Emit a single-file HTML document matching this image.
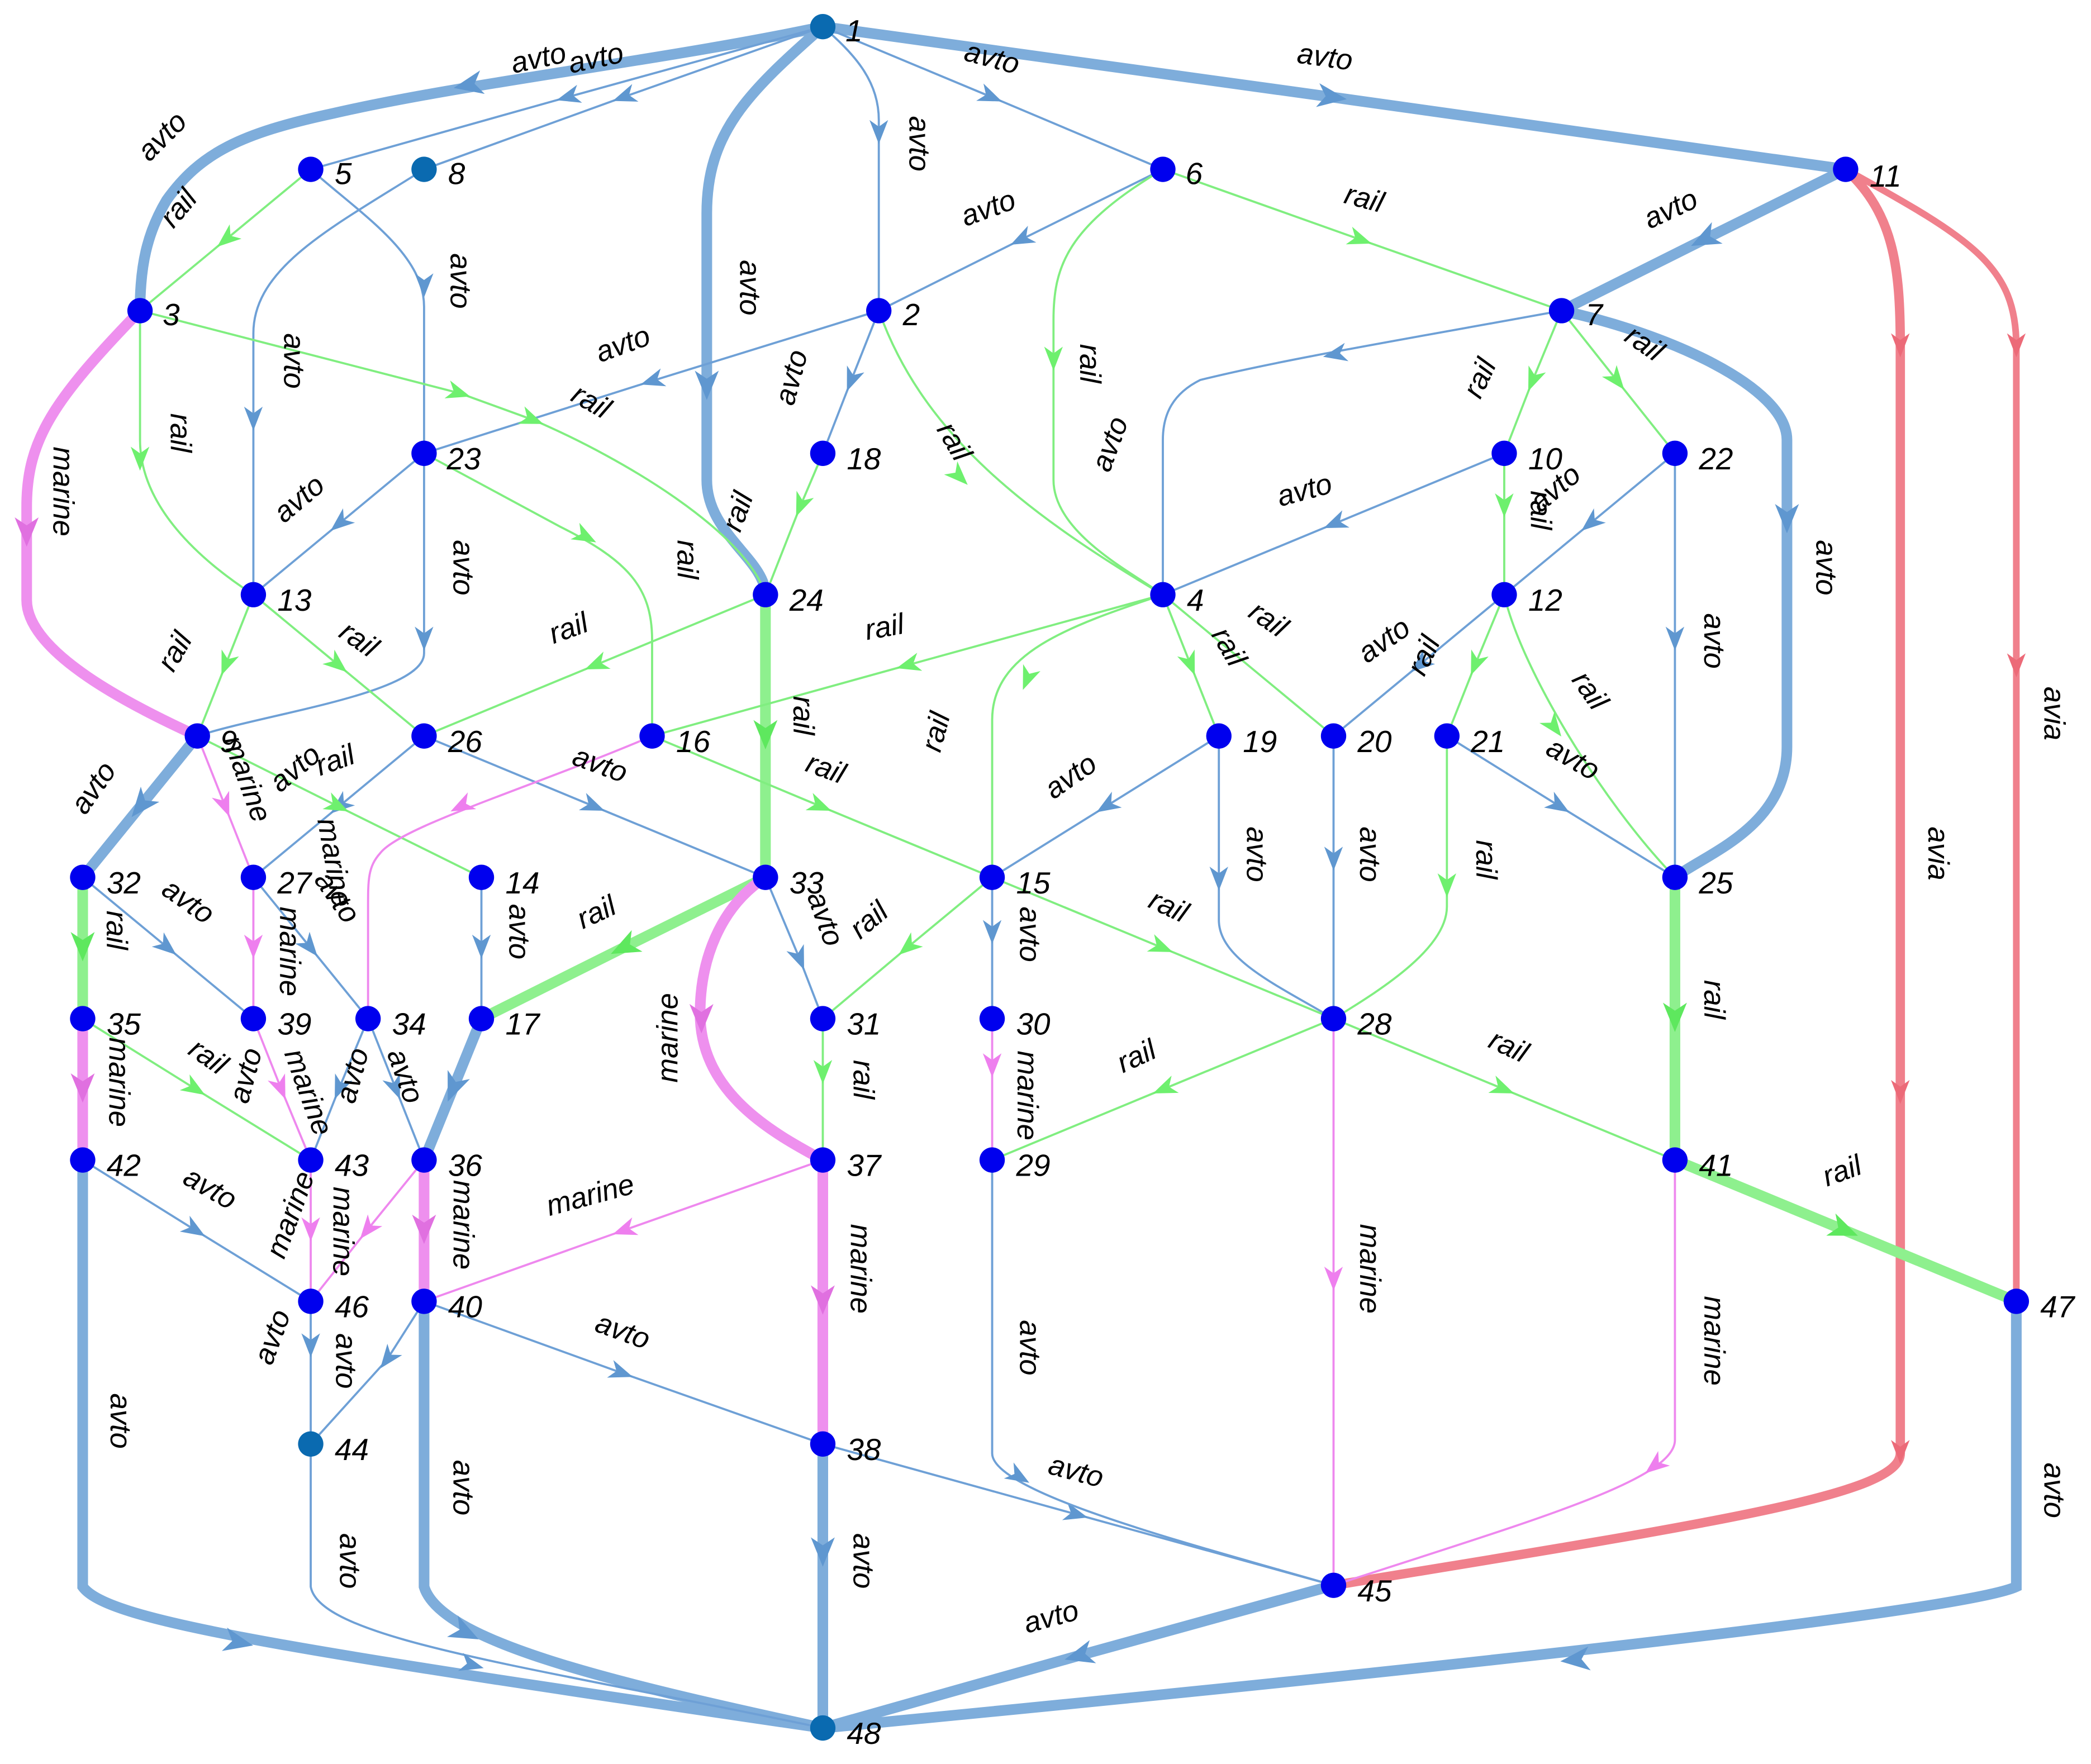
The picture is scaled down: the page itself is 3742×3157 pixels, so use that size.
<!DOCTYPE html>
<html><head><meta charset="utf-8"><style>
html,body{margin:0;padding:0;background:#fff;}
svg{display:block;}
text{font-family:"Liberation Sans",sans-serif;font-style:italic;fill:#000;}
.l{font-size:22px;}
.n{font-size:23px;}
.ta{stroke:#7eaddb;stroke-width:8;fill:none;stroke-linecap:round;}
.tn{stroke:#6ea0d6;stroke-width:1.6;fill:none;}
.ra{stroke:#8ef08e;stroke-width:8;fill:none;}
.rn{stroke:#80ee80;stroke-width:1.6;fill:none;}
.ma{stroke:#ee90ee;stroke-width:8;fill:none;}
.mn{stroke:#ee88ee;stroke-width:1.6;fill:none;}
.av{stroke:#f0808c;fill:none;}
.h{stroke:none !important;fill:none;}
.b{marker-mid:url(#ab);}
.g{marker-mid:url(#ag);}
.p{marker-mid:url(#ap);}
.r{marker-mid:url(#ar);}
.bb{marker-mid:url(#abb);}
.gb{marker-mid:url(#agb);}
.pb{marker-mid:url(#apb);}
</style></head><body>
<svg width="3742" height="3157" viewBox="0 0 1568 1323" preserveAspectRatio="none" xmlns="http://www.w3.org/2000/svg">
<defs>
<marker id="ab" markerUnits="userSpaceOnUse" markerWidth="20" markerHeight="16" refX="10" refY="7" orient="auto"><path d="M0,0 L18,7 L0,14 L5,7z" fill="#5f97d0"/></marker>
<marker id="ag" markerUnits="userSpaceOnUse" markerWidth="20" markerHeight="16" refX="10" refY="7" orient="auto"><path d="M0,0 L18,7 L0,14 L5,7z" fill="#6ef06e"/></marker>
<marker id="ap" markerUnits="userSpaceOnUse" markerWidth="20" markerHeight="16" refX="10" refY="7" orient="auto"><path d="M0,0 L18,7 L0,14 L5,7z" fill="#ee7fee"/></marker>
<marker id="ar" markerUnits="userSpaceOnUse" markerWidth="20" markerHeight="16" refX="10" refY="7" orient="auto"><path d="M0,0 L18,7 L0,14 L5,7z" fill="#ec6a78"/></marker>
<marker id="abb" markerUnits="userSpaceOnUse" markerWidth="24" markerHeight="20" refX="12" refY="9" orient="auto"><path d="M0,0 L22,9 L0,18 L6,9z" fill="#5f97d0"/></marker>
<marker id="agb" markerUnits="userSpaceOnUse" markerWidth="24" markerHeight="20" refX="12" refY="9" orient="auto"><path d="M0,0 L22,9 L0,18 L6,9z" fill="#5ee85e"/></marker>
<marker id="apb" markerUnits="userSpaceOnUse" markerWidth="24" markerHeight="20" refX="12" refY="9" orient="auto"><path d="M0,0 L22,9 L0,18 L6,9z" fill="#e070e0"/></marker>
</defs>

<!-- avia -->
<path class="av r" stroke-width="7" d="M1384,127 C1420,160 1425,200 1425,260 L1425,820 L1425,1090 C1425,1120 1300,1140 1000,1189"/>
<path class="av r" stroke-width="5" d="M1384,127 C1480,180 1512,200 1512,260 L1512,500 L1512,976"/>

<!-- thick avto -->
<path class="ta" d="M617,20 C500,45 350,62 250,85 C180,100 150,115 125,150 C110,175 105,200 105,233"/>
<path class="h bb" d="M400,54 L350,64 L300,74"/>
<path class="ta bb" d="M617,20 L1000,73 L1384,127"/>
<path class="ta" d="M617,20 C560,70 530,100 530,160 L530,360 C530,400 574,420 574,446"/>
<path class="h bb" d="M530,270 L530,290 L530,310"/>
<path class="ta bb" d="M1384,127 L1277,180 L1171,233"/>
<path class="ta" d="M1171,233 C1250,250 1340,290 1340,330 L1340,560 C1340,620 1280,640 1256,658"/>
<path class="h bb" d="M1340,360 L1340,390 L1340,420"/>
<path class="ta bb" d="M148,552 L105,605 L62,658"/>
<path class="ta bb" d="M361,764 L339.5,817 L318,870"/>
<path class="ta" d="M62,870 L62,1190 C80,1215 200,1235 617,1296"/>
<path class="h bb" d="M150,1225 L180,1232 L210,1238"/>
<path class="ta" d="M318,976 L318,1190 C330,1230 450,1260 617,1296"/>
<path class="h bb" d="M330,1215 L350,1225 L370,1235"/>
<path class="ta bb" d="M617,1083 L617,1165 L617,1296"/>
<path class="ta bb" d="M1000,1189 L808,1242 L617,1296"/>
<path class="ta" d="M1512,976 L1512,1190 C1480,1205 1200,1240 617,1296"/>
<path class="h bb" d="M1220,1241 L1180,1245 L1140,1249"/>

<!-- thick rail -->
<path class="ra gb" d="M574,446 L574,552 L574,658"/>
<path class="ra gb" d="M574,658 L467,711 L361,764"/>
<path class="ra gb" d="M62,658 L62,711 L62,764"/>
<path class="ra gb" d="M1256,658 L1256,764 L1256,870"/>
<path class="ra gb" d="M1256,870 L1384,923 L1512,976"/>

<!-- thick marine -->
<path class="ma" d="M105,233 C40,300 20,330 20,380 L20,450 C20,490 100,530 148,552"/>
<path class="h pb" d="M20,370 L20,400 L20,430"/>
<path class="ma" d="M574,658 C540,680 525,720 525,760 C525,820 580,850 617,870"/>
<path class="h pb" d="M526,745 L526,765 L526,785"/>
<path class="ma pb" d="M617,870 L617,976 L617,1083"/>
<path class="ma pb" d="M62,764 L62,817 L62,870"/>
<path class="ma pb" d="M318,870 L318,923 L318,976"/>

<!-- thin avto -->
<path class="tn b" d="M617,20 L425,73 L233,127"/>
<path class="tn b" d="M617,20 L467,73 L318,127"/>
<path class="tn" d="M617,20 C640,40 659,60 659,90 L659,233"/>
<path class="h b" d="M659,90 L659,100 L659,110"/>
<path class="tn b" d="M617,20 L744,73 L872,127"/>
<path class="tn b" d="M872,127 L765,180 L659,233"/>
<path class="tn b" d="M659,233 L488,286 L318,340"/>
<path class="tn b" d="M659,233 L638,286 L617,340"/>
<path class="tn" d="M233,127 C270,160 318,190 318,230 L318,340"/>
<path class="h b" d="M318,200 L318,215 L318,230"/>
<path class="tn" d="M318,127 C250,170 190,200 190,250 L190,446"/>
<path class="h b" d="M190,300 L190,315 L190,330"/>
<path class="tn b" d="M318,340 L254,393 L190,446"/>
<path class="tn" d="M318,340 L318,490 C318,520 200,535 148,552"/>
<path class="h b" d="M318,470 L318,480 L318,490"/>
<path class="tn b" d="M318,552 L254,605 L190,658"/>
<path class="tn b" d="M318,552 L446,605 L574,658"/>
<path class="tn" d="M1171,233 C1050,255 960,270 900,285 C880,295 872,310 872,330 L872,446"/>
<path class="h b" d="M1020,262 L1000,266 L980,270"/>
<path class="tn b" d="M1128,340 L1000,393 L872,446"/>
<path class="tn b" d="M1256,340 L1192,393 L1128,446"/>
<path class="tn b" d="M1256,340 L1256,480 L1256,658"/>
<path class="tn b" d="M1128,446 L1064,499 L1000,552"/>
<path class="tn b" d="M1085,552 L1170,605 L1256,658"/>
<path class="tn b" d="M914,552 L829,605 L744,658"/>
<path class="tn" d="M914,552 L914,690 C914,720 960,740 1000,764"/>
<path class="h b" d="M914,650 L914,660 L914,670"/>
<path class="tn b" d="M1000,552 L1000,645 L1000,764"/>
<path class="tn b" d="M744,658 L744,700 L744,764"/>
<path class="tn b" d="M574,658 L600,720 L617,764"/>
<path class="tn b" d="M62,658 L126,711 L190,764"/>
<path class="tn b" d="M190,658 L233,711 L276,764"/>
<path class="tn b" d="M361,658 L361,711 L361,764"/>
<path class="tn b" d="M276,764 L254,817 L233,870"/>
<path class="tn b" d="M276,764 L297,817 L318,870"/>
<path class="tn b" d="M62,870 L147,923 L233,976"/>
<path class="tn b" d="M318,976 L467,1030 L617,1083"/>
<path class="tn b" d="M617,1083 L808,1136 L1000,1189"/>
<path class="tn" d="M744,870 L744,1090 C744,1120 900,1160 1000,1189"/>
<path class="h b" d="M755,1102 L765,1108 L775,1114"/>
<path class="tn b" d="M233,976 L233,1010 L233,1083"/>
<path class="tn b" d="M318,976 L290,1020 L233,1083"/>
<path class="tn" d="M233,1083 L233,1190 C240,1230 400,1250 617,1296"/>
<path class="h b" d="M340,1245 L355,1249 L370,1253"/>

<!-- thin rail -->
<path class="rn g" d="M233,127 L169,180 L105,233"/>
<path class="rn g" d="M872,127 L1021,180 L1171,233"/>
<path class="rn" d="M872,127 C800,170 790,200 790,240 L790,360 C790,400 850,430 872,446"/>
<path class="h g" d="M790,260 L790,270 L790,280"/>
<path class="rn" d="M659,233 C690,320 760,380 872,446"/>
<path class="h g" d="M712,350 L720,358 L728,366"/>
<path class="rn g" d="M617,340 L600,380 L574,446"/>
<path class="rn" d="M105,233 L105,330 C105,380 150,420 190,446"/>
<path class="h g" d="M105,335 L105,345 L105,355"/>
<path class="rn g" d="M105,233 L345,295 L400,315 C470,345 560,400 574,446"/>
<path class="rn" d="M318,340 L420,395 C470,420 489,440 489,480 L489,552"/>
<path class="h g" d="M425,395 L440,403 L455,411"/>
<path class="rn g" d="M1171,233 L1149,286 L1128,340"/>
<path class="rn g" d="M1171,233 L1213,286 L1256,340"/>
<path class="rn g" d="M1128,340 L1128,380 L1128,446"/>
<path class="rn g" d="M1128,446 L1106,499 L1085,552"/>
<path class="rn" d="M1128,446 C1140,500 1200,600 1256,658"/>
<path class="h g" d="M1160,538 L1166,546 L1172,554"/>
<path class="rn g" d="M872,446 L893,499 L914,552"/>
<path class="rn" d="M872,446 L1000,552"/>
<path class="rn g" d="M872,446 L680,499 L489,552"/>
<path class="rn" d="M872,446 C800,470 744,490 744,540 L744,658"/>
<path class="h g" d="M774,500 L770,510 L766,520"/>
<path class="rn g" d="M574,446 L446,499 L318,552"/>
<path class="rn g" d="M190,446 L169,499 L148,552"/>
<path class="rn g" d="M190,446 L254,499 L318,552"/>
<path class="rn g" d="M148,552 L254,605 L361,658"/>
<path class="rn g" d="M489,552 L616,605 L744,658"/>
<path class="rn g" d="M744,658 L872,711 L1000,764"/>
<path class="rn g" d="M744,658 L680,711 L617,764"/>
<path class="rn" d="M1085,552 L1085,680 C1085,710 1040,740 1000,764"/>
<path class="h g" d="M1085,655 L1085,665 L1085,675"/>
<path class="rn g" d="M1000,764 L872,817 L744,870"/>
<path class="rn g" d="M1000,764 L1128,817 L1256,870"/>
<path class="rn g" d="M617,764 L617,805 L617,870"/>
<path class="rn g" d="M62,764 L147,817 L233,870"/>

<!-- thin marine -->
<path class="mn p" d="M148,552 L169,605 L190,658"/>
<path class="mn p" d="M190,658 L190,711 L190,764"/>
<path class="mn" d="M489,552 C400,590 300,620 285,640 C276,650 276,660 276,680 L276,764"/>
<path class="h p" d="M355,600 L345,605 L335,610"/>
<path class="mn p" d="M190,764 L211,817 L233,870"/>
<path class="mn p" d="M744,764 L744,800 L744,870"/>
<path class="mn p" d="M617,870 L467,923 L318,976"/>
<path class="mn p" d="M1000,764 L1000,960 L1000,1189"/>
<path class="mn" d="M1256,870 L1256,1080 C1256,1110 1150,1140 1000,1189"/>
<path class="h p" d="M1245,1096 L1240,1100 L1235,1104"/>
<path class="mn p" d="M233,870 L233,923 L233,976"/>
<path class="mn p" d="M318,870 L275,923 L233,976"/>

<!-- nodes -->
<g fill="#0000ee">
<circle cx="233" cy="127" r="9.5"/><circle cx="872" cy="127" r="9.5"/><circle cx="1384" cy="127" r="9.5"/>
<circle cx="105" cy="233" r="9.5"/><circle cx="659" cy="233" r="9.5"/><circle cx="1171" cy="233" r="9.5"/>
<circle cx="318" cy="340" r="9.5"/><circle cx="617" cy="340" r="9.5"/><circle cx="1128" cy="340" r="9.5"/><circle cx="1256" cy="340" r="9.5"/>
<circle cx="190" cy="446" r="9.5"/><circle cx="574" cy="446" r="9.5"/><circle cx="872" cy="446" r="9.5"/><circle cx="1128" cy="446" r="9.5"/>
<circle cx="148" cy="552" r="9.5"/><circle cx="318" cy="552" r="9.5"/><circle cx="489" cy="552" r="9.5"/><circle cx="914" cy="552" r="9.5"/><circle cx="1000" cy="552" r="9.5"/><circle cx="1085" cy="552" r="9.5"/>
<circle cx="62" cy="658" r="9.5"/><circle cx="190" cy="658" r="9.5"/><circle cx="361" cy="658" r="9.5"/><circle cx="574" cy="658" r="9.5"/><circle cx="744" cy="658" r="9.5"/><circle cx="1256" cy="658" r="9.5"/>
<circle cx="62" cy="764" r="9.5"/><circle cx="190" cy="764" r="9.5"/><circle cx="276" cy="764" r="9.5"/><circle cx="361" cy="764" r="9.5"/><circle cx="617" cy="764" r="9.5"/><circle cx="744" cy="764" r="9.5"/><circle cx="1000" cy="764" r="9.5"/>
<circle cx="62" cy="870" r="9.5"/><circle cx="233" cy="870" r="9.5"/><circle cx="318" cy="870" r="9.5"/><circle cx="617" cy="870" r="9.5"/><circle cx="744" cy="870" r="9.5"/><circle cx="1256" cy="870" r="9.5"/>
<circle cx="233" cy="976" r="9.5"/><circle cx="318" cy="976" r="9.5"/><circle cx="1512" cy="976" r="9.5"/>
<circle cx="617" cy="1083" r="9.5"/><circle cx="1000" cy="1189" r="9.5"/>
</g>
<g fill="#0a6ab0">
<circle cx="617" cy="20" r="9.5"/><circle cx="318" cy="127" r="9.5"/><circle cx="233" cy="1083" r="9.5"/><circle cx="617" cy="1296" r="9.5"/>
</g>

<!-- node labels -->
<g class="n">
<text x="634" y="31">1</text><text x="251" y="138">5</text><text x="336" y="138">8</text><text x="889" y="138">6</text><text x="1402" y="140">11</text>
<text x="122" y="244">3</text><text x="677" y="244">2</text><text x="1189" y="244">7</text>
<text x="335" y="352">23</text><text x="635" y="352">18</text><text x="1146" y="352">10</text><text x="1274" y="352">22</text>
<text x="208" y="458">13</text><text x="592" y="458">24</text><text x="890" y="458">4</text><text x="1146" y="458">12</text>
<text x="165" y="564">9</text><text x="336" y="564">26</text><text x="507" y="564">16</text><text x="932" y="564">19</text><text x="1018" y="564">20</text><text x="1103" y="564">21</text>
<text x="80" y="670">32</text><text x="208" y="670">27</text><text x="379" y="670">14</text><text x="592" y="670">33</text><text x="762" y="670">15</text><text x="1274" y="670">25</text>
<text x="80" y="776">35</text><text x="208" y="776">39</text><text x="294" y="776">34</text><text x="379" y="776">17</text><text x="635" y="776">31</text><text x="762" y="776">30</text><text x="1018" y="776">28</text>
<text x="80" y="882">42</text><text x="251" y="882">43</text><text x="336" y="882">36</text><text x="635" y="882">37</text><text x="762" y="882">29</text><text x="1274" y="882">41</text>
<text x="251" y="988">46</text><text x="336" y="988">40</text><text x="1530" y="988">47</text>
<text x="251" y="1095">44</text><text x="635" y="1095">38</text><text x="1018" y="1201">45</text><text x="635" y="1308">48</text>
</g>

<!-- edge labels -->
<g class="l">
<text x="385" y="55" transform="rotate(-12 385 55)">avto</text>
<text x="428" y="55" transform="rotate(-12 428 55)">avto</text>
<text x="112" y="122" transform="rotate(-45 112 122)">avto</text>
<text x="722" y="45" transform="rotate(15 722 45)">avto</text>
<text x="972" y="47" transform="rotate(8 972 47)">avto</text>
<text x="682" y="87" transform="rotate(90 682 87)">avto</text>
<text x="130" y="172" transform="rotate(-50 130 172)">rail</text>
<text x="338" y="190" transform="rotate(90 338 190)">avto</text>
<text x="724" y="170" transform="rotate(-20 724 170)">avto</text>
<text x="1007" y="152" transform="rotate(15 1007 152)">rail</text>
<text x="1237" y="172" transform="rotate(-25 1237 172)">avto</text>
<text x="555" y="195" transform="rotate(90 555 195)">avto</text>
<text x="213" y="250" transform="rotate(90 213 250)">avto</text>
<text x="450" y="272" transform="rotate(-20 450 272)">avto</text>
<text x="427" y="300" transform="rotate(30 427 300)">rail</text>
<text x="595" y="305" transform="rotate(-75 595 305)">avto</text>
<text x="702" y="322" transform="rotate(60 702 322)">rail</text>
<text x="810" y="258" transform="rotate(90 810 258)">rail</text>
<text x="832" y="355" transform="rotate(-70 832 355)">avto</text>
<text x="1110" y="300" transform="rotate(-65 1110 300)">rail</text>
<text x="1217" y="255" transform="rotate(35 1217 255)">rail</text>
<text x="128" y="310" transform="rotate(90 128 310)">rail</text>
<text x="40" y="335" transform="rotate(90 40 335)">marine</text>
<text x="213" y="393" transform="rotate(-40 213 393)">avto</text>
<text x="340" y="405" transform="rotate(90 340 405)">avto</text>
<text x="508" y="405" transform="rotate(90 508 405)">rail</text>
<text x="555" y="400" transform="rotate(-70 555 400)">rail</text>
<text x="960" y="380" transform="rotate(-15 960 380)">avto</text>
<text x="1148" y="368" transform="rotate(90 1148 368)">rail</text>
<text x="1155" y="385" transform="rotate(-40 1155 385)">avto</text>
<text x="1362" y="405" transform="rotate(90 1362 405)">avto</text>
<text x="1278" y="460" transform="rotate(90 1278 460)">avto</text>
<text x="130" y="505" transform="rotate(-60 130 505)">rail</text>
<text x="253" y="477" transform="rotate(35 253 477)">rail</text>
<text x="415" y="483" transform="rotate(-20 415 483)">rail</text>
<text x="650" y="480" transform="rotate(-10 650 480)">rail</text>
<text x="908" y="476" transform="rotate(60 908 476)">rail</text>
<text x="935" y="462" transform="rotate(35 935 462)">rail</text>
<text x="1025" y="498" transform="rotate(-35 1025 498)">avto</text>
<text x="1068" y="508" transform="rotate(-65 1068 508)">rail</text>
<text x="1178" y="510" transform="rotate(55 1178 510)">rail</text>
<text x="595" y="522" transform="rotate(90 595 522)">rail</text>
<text x="705" y="565" transform="rotate(-75 705 565)">rail</text>
<text x="167" y="555" transform="rotate(70 167 555)">marine</text>
<text x="210" y="595" transform="rotate(-40 210 595)">avto</text>
<text x="240" y="582" transform="rotate(-20 240 582)">rail</text>
<text x="428" y="573" transform="rotate(20 428 573)">avto</text>
<text x="603" y="578" transform="rotate(20 603 578)">rail</text>
<text x="790" y="600" transform="rotate(-35 790 600)">avto</text>
<text x="1158" y="565" transform="rotate(30 1158 565)">avto</text>
<text x="64" y="612" transform="rotate(-55 64 612)">avto</text>
<text x="238" y="615" transform="rotate(80 238 615)">marine</text>
<text x="210" y="680" transform="rotate(90 210 680)">marine</text>
<text x="235" y="660" transform="rotate(55 235 660)">avto</text>
<text x="120" y="670" transform="rotate(35 120 670)">avto</text>
<text x="80" y="683" transform="rotate(90 80 683)">rail</text>
<text x="382" y="678" transform="rotate(90 382 678)">avto</text>
<text x="437" y="697" transform="rotate(-25 437 697)">rail</text>
<text x="605" y="672" transform="rotate(70 605 672)">avto</text>
<text x="645" y="705" transform="rotate(-40 645 705)">rail</text>
<text x="765" y="680" transform="rotate(90 765 680)">avto</text>
<text x="860" y="680" transform="rotate(25 860 680)">rail</text>
<text x="935" y="620" transform="rotate(90 935 620)">avto</text>
<text x="1020" y="620" transform="rotate(90 1020 620)">avto</text>
<text x="1107" y="630" transform="rotate(90 1107 630)">rail</text>
<text x="1278" y="735" transform="rotate(90 1278 735)">rail</text>
<text x="508" y="812" transform="rotate(-90 508 812)">marine</text>
<text x="140" y="790" transform="rotate(35 140 790)">rail</text>
<text x="82" y="778" transform="rotate(90 82 778)">marine</text>
<text x="213" y="790" transform="rotate(70 213 790)">marine</text>
<text x="290" y="790" transform="rotate(70 290 790)">avto</text>
<text x="210" y="810" transform="rotate(-75 210 835)">avto</text>
<text x="290" y="810" transform="rotate(-75 290 835)">avto</text>
<text x="640" y="795" transform="rotate(90 640 795)">rail</text>
<text x="763" y="788" transform="rotate(90 763 788)">marine</text>
<text x="842" y="805" transform="rotate(-25 842 805)">rail</text>
<text x="1115" y="785" transform="rotate(25 1115 785)">rail</text>
<text x="340" y="885" transform="rotate(90 340 885)">marine</text>
<text x="250" y="890" transform="rotate(90 250 890)">marine</text>
<text x="213" y="945" transform="rotate(-70 213 945)">marine</text>
<text x="136" y="887" transform="rotate(30 136 887)">avto</text>
<text x="412" y="912" transform="rotate(-15 412 912)">marine</text>
<text x="638" y="918" transform="rotate(90 638 918)">marine</text>
<text x="1370" y="890" transform="rotate(-20 1370 890)">rail</text>
<text x="1020" y="918" transform="rotate(90 1020 918)">marine</text>
<text x="1278" y="972" transform="rotate(90 1278 972)">marine</text>
<text x="1446" y="620" transform="rotate(90 1446 620)">avia</text>
<text x="1533" y="515" transform="rotate(90 1533 515)">avia</text>
<text x="445" y="998" transform="rotate(20 445 998)">avto</text>
<text x="232" y="1005" transform="rotate(-70 232 1035)">avto</text>
<text x="252" y="1000" transform="rotate(90 252 1000)">avto</text>
<text x="765" y="990" transform="rotate(90 765 990)">avto</text>
<text x="83" y="1045" transform="rotate(90 83 1045)">avto</text>
<text x="340" y="1095" transform="rotate(90 340 1095)">avto</text>
<text x="255" y="1150" transform="rotate(90 255 1150)">avto</text>
<text x="640" y="1150" transform="rotate(90 640 1150)">avto</text>
<text x="785" y="1105" transform="rotate(15 785 1105)">avto</text>
<text x="770" y="1225" transform="rotate(-15 770 1225)">avto</text>
<text x="1533" y="1097" transform="rotate(90 1533 1097)">avto</text>
</g>
</svg>
</body></html>
